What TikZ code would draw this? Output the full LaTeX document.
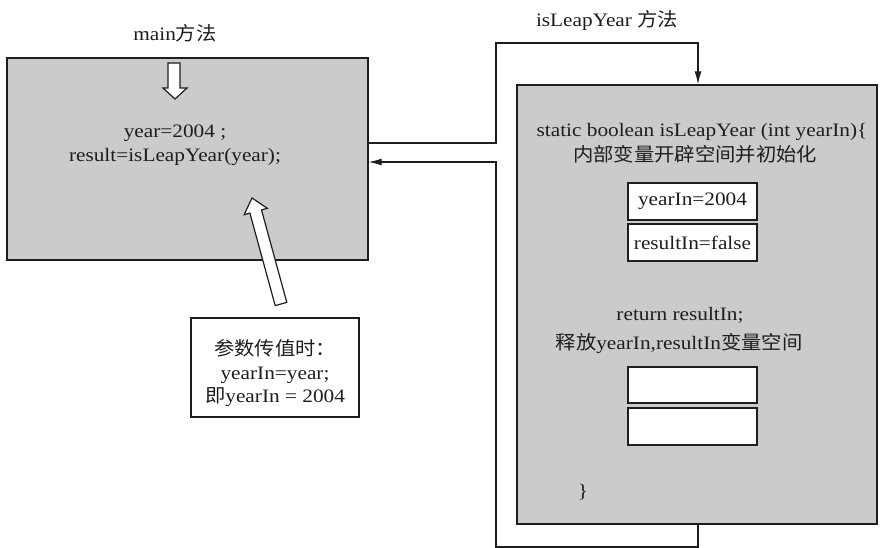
\documentclass[tikz,border=0pt]{standalone}
\usepackage{fontspec}
\setmainfont[FakeStretch=1.12]{Liberation Serif}
\newfontfamily\cjk[FakeStretch=1.07]{Noto Sans CJK SC}
\newcommand\zh[1]{{\cjk #1}}
\usetikzlibrary{arrows.meta,calc}
\definecolor{panel}{HTML}{CBCBCB}
\definecolor{ink}{HTML}{1E1E1E}

\begin{document}
\begin{tikzpicture}[x=1pt,y=-1pt,
  font=\fontsize{19}{23}\selectfont, text=ink,
  box/.style={draw=ink, line width=1.3pt, inner sep=0pt},
  panelbox/.style={box, fill=panel},
  cell/.style={box, fill=white, minimum width=129pt, minimum height=37pt},
  label/.style={inner sep=0pt, anchor=center},
  conn/.style={draw=ink, line width=1.2pt},
  tip/.style={-{Latex[length=13pt,width=7pt]}},
  hollow/.style={draw=ink, line width=1.2pt, fill=white, line join=miter}]

  % page
  \fill[white] (0,0) rectangle (880,547);
  \useasboundingbox (0,0) rectangle (880,547);

  % caller frame
  \node[panelbox, minimum width=361pt, minimum height=202pt] (mainbox) at (187.5,159) {};
  \node[label] (maintitle) at (175,33) {main\zh{方法}};
  \node[label] (mainl1) at (175,133) {year=2004 ;};
  \node[label] (mainl2) at (175,157) {result=isLeapYear(year);};

  % entry arrow into main
  \draw[hollow] (168,63) -- (180,63) -- (180,88) -- (187,88) -- (175,99)
               -- (163,88) -- (168,88) -- cycle;

  % callee frame
  \node[panelbox, minimum width=360pt, minimum height=439pt] (fnbox) at (697,304.5) {};
  \node[label] (fntitle) at (607,20) {isLeapYear \zh{方法}};
  \node[label] (fnl1) at (702,132) {static boolean isLeapYear (int yearIn)\{};
  \node[label] (fnl2) at (695,154) {\zh{内部变量开辟空间并初始化}};
  \node[cell] (cellyear) at (692.5,201.5) {yearIn=2004};
  \node[cell] (cellres) at (692.5,242.5) {resultIn=false};
  \node[label] (fnl3) at (680,315) {return resultIn;};
  \node[label] (fnl4) at (679,343) {\zh{释放}yearIn,resultIn\zh{变量空间}};
  \node[cell, minimum height=36pt] (cellfree1) at (692.5,385) {};
  \node[cell] (cellfree2) at (692.5,426.5) {};
  \node[label] (fnend) at (583,492) {\}};

  % parameter note
  \node[box, fill=white, minimum width=168pt, minimum height=99pt] (note) at (275,367.5) {};
  \node[label] (notel1) at (275,348) {\zh{参数传值时：}};
  \node[label] (notel2) at (275,375) {yearIn=year;};
  \node[label] (notel3) at (275,397) {\zh{即}yearIn = 2004};

  % hollow arrow from the note up into main
  \draw[hollow] (286.8,302.4) -- (261.5,209.9) -- (267.3,208.3) -- (252,198)
               -- (244.1,214.7) -- (249.9,213.1) -- (275.2,305.6) -- cycle;

  % call and return connectors
  \coordinate (callx) at (496,143);
  \coordinate (calltop) at (698,43);
  \coordinate (retx) at (496,162);
  \coordinate (retlow) at (698,547);
  \draw[conn, tip] (mainbox.east |- callx) -- (callx) |- (calltop)
                   -- (calltop |- fnbox.north);
  \draw[conn, tip] (retlow |- fnbox.south) -- (retlow) -| (retx)
                   -- (mainbox.east |- retx);
\end{tikzpicture}
\end{document}
